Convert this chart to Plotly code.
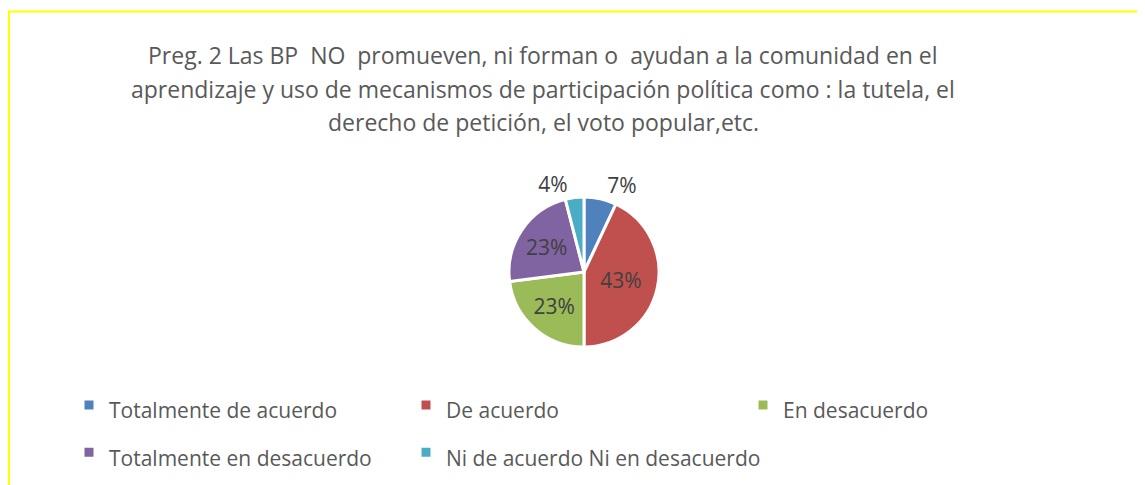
import plotly.graph_objects as go

categories = ["Totalmente de acuerdo", "De acuerdo", "En desacuerdo",
              "Totalmente en desacuerdo", "Ni de acuerdo Ni en desacuerdo"]
values = [7, 43, 23, 23, 4]
colors = ["#4F81BD", "#C0504D", "#9BBB59", "#8064A2", "#4BACC6"]
label_positions = ["outside", "inside", "inside", "inside", "outside"]
title_lines = [
    "Preg. 2 Las BP  NO  promueven, ni forman o  ayudan a la comunidad en el",
    "aprendizaje y uso de mecanismos de participación política como : la tutela, el",
    "derecho de petición, el voto popular,etc.",
]

# page body has an 8px margin: figure fills the rest of the 1145x485 window
W, H = 1137, 477
FONT = "Open Sans"
TXT = "#595959"

legend_labels = [f"<span style='font-size:21px'>{c}</span>" for c in categories]

cx, cy, r = 576, 264, 75
fig = go.Figure(go.Pie(
    labels=legend_labels,
    values=values,
    sort=False,
    direction="clockwise",
    rotation=0,
    marker=dict(colors=colors, line=dict(color="white", width=3)),
    texttemplate="%{percent:.0%}",
    textposition=label_positions,
    insidetextorientation="horizontal",
    textfont=dict(family=FONT, size=21, color="#404040"),
    domain=dict(x=[(cx - r) / W, (cx + r) / W], y=[1 - (cy + r) / H, 1 - (cy - r) / H]),
    hoverinfo="skip",
))

annotations = []
for i, line in enumerate(title_lines):
    annotations.append(dict(
        text=line, x=535 / W, y=1 - (47 + 33.5 * i) / H, xref="paper", yref="paper",
        xanchor="center", yanchor="middle", showarrow=False,
        font=dict(family=FONT, size=23, color=TXT),
    ))

fig.update_layout(
    width=W, height=H,
    margin=dict(l=0, r=0, t=0, b=0, autoexpand=False),
    paper_bgcolor="white", plot_bgcolor="white",
    showlegend=True,
    legend=dict(
        orientation="h", x=61 / W, xanchor="left", y=1 - 368.5 / H, yanchor="top",
        entrywidth=292, entrywidthmode="pixels",
        font=dict(family=FONT, size=34, color=TXT),
        bgcolor="rgba(0,0,0,0)", traceorder="normal",
    ),
    annotations=annotations,
    shapes=[dict(type="rect", xref="paper", yref="paper",
                 x0=1 / W, x1=1.2, y0=-0.2, y1=1 - 3.5 / H,
                 line=dict(color="#FFFF00", width=2), fillcolor="rgba(0,0,0,0)")],
)

fig.write_html("out.html")
